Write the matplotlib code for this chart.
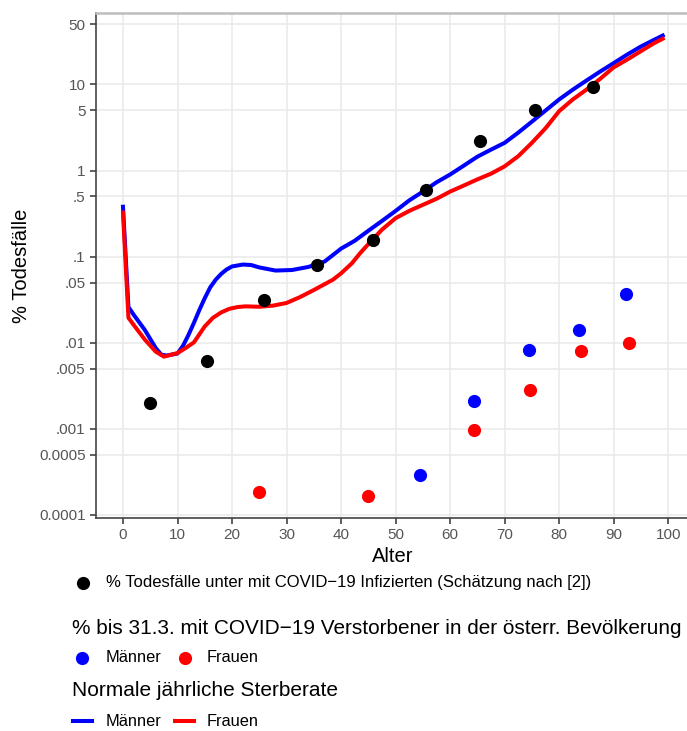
import numpy as np
import matplotlib
matplotlib.use('Agg')
import matplotlib.pyplot as plt
from matplotlib.lines import Line2D

matplotlib.rcParams['font.family'] = ['Liberation Sans', 'DejaVu Sans']

##########################################
## Data
##########################################

# % deaths among COVID-19 infected (estimate)
infected_age  = [5, 15.5, 25.9, 35.6, 45.8, 55.5, 65.4, 75.5, 86.3]
infected_rate = [0.002, 0.0061, 0.031, 0.079, 0.155, 0.60, 2.2, 5.1, 9.3]

# % of Austrian population dead with COVID-19 until 31.3.
men_covid_age    = [54.5, 64.3, 74.5, 83.7, 92.3]
men_covid_rate   = [0.00029, 0.00213, 0.0082, 0.0141, 0.0368]
women_covid_age  = [24.9, 44.9, 64.3, 74.7, 84.0, 92.9]
women_covid_rate = [0.000184, 0.000166, 0.00097, 0.00284, 0.0081, 0.0099]

# normal yearly death rate
men_age  = [0, 1, 2, 4, 6, 7, 8, 10, 11, 12, 13, 14, 15, 16, 17, 18, 19, 20, 22,
            23.5, 25, 28, 31, 34, 37, 40, 42.5, 45, 47.5, 50, 52.5, 55, 57.5, 60,
            62.5, 65, 67.5, 70, 72.5, 75, 77.5, 80, 82.5, 85, 87.5, 90, 92.5, 95,
            97.5, 99]
men_rate = [0.38, 0.026, 0.021, 0.0141, 0.0087, 0.0073, 0.0071, 0.0075, 0.0092,
            0.0123, 0.017, 0.024, 0.033, 0.044, 0.054, 0.063, 0.071, 0.077, 0.081,
            0.080, 0.075, 0.069, 0.070, 0.076, 0.088, 0.124, 0.153, 0.20, 0.26,
            0.34, 0.45, 0.57, 0.73, 0.90, 1.14, 1.45, 1.75, 2.1, 2.76, 3.7, 4.98,
            6.7, 8.7, 11.1, 14.1, 17.7, 22.3, 27.6, 33.2, 37]
women_age  = [0, 1, 2, 4, 6, 7.5, 10, 11.5, 13, 14, 15, 16.5, 18, 19.5, 21, 22.5,
              25, 27.5, 30, 32.5, 35, 38.5, 40, 42, 43.5, 45, 47.5, 50, 52.5, 55,
              57.5, 60, 62.5, 65, 67.5, 70, 72.5, 75, 77.5, 80, 82.5, 85, 87.5,
              90, 92.5, 95, 97.5, 99]
women_rate = [0.325, 0.0195, 0.016, 0.0109, 0.0079, 0.0069, 0.0076, 0.0087, 0.0101,
              0.0125, 0.0155, 0.0195, 0.0225, 0.0248, 0.026, 0.0265, 0.0262, 0.027,
              0.029, 0.034, 0.041, 0.054, 0.064, 0.084, 0.11, 0.14, 0.206, 0.28,
              0.34, 0.40, 0.47, 0.57, 0.67, 0.79, 0.92, 1.12, 1.47, 2.1, 3.1, 4.9,
              6.7, 8.7, 11.6, 15.8, 19.5, 24.4, 30.4, 34]

y_ticks  = [0.0001, 0.0005, 0.001, 0.005, 0.01, 0.05, 0.1, 0.5, 1, 5, 10, 50]
y_labels = ['0.0001', '0.0005', '.001', '.005', '.01', '.05', '.1', '.5', '1', '5', '10', '50']
x_ticks  = list(range(0, 101, 10))

##########################################
## Plot
##########################################
W, H = 687, 731
fig = plt.figure(figsize=(W/100, H/100), dpi=100)
fig.patch.set_facecolor('white')

def fx(px): return px / W
def fy(py): return 1 - py / H

ax_left, ax_right, ax_top, ax_bottom = 96, 690, 13, 518
ax = fig.add_axes([fx(ax_left), fy(ax_bottom), fx(ax_right - ax_left), (ax_bottom - ax_top) / H])

blue = '#0000FF'
red = '#FF0000'
lw = 2.9

ax.plot(men_age, men_rate, color=blue, lw=lw, zorder=3, solid_joinstyle='round')
ax.plot(women_age, women_rate, color=red, lw=lw, zorder=3, solid_joinstyle='round')
ax.scatter(infected_age, infected_rate, s=90, color='black', zorder=4, linewidths=0)
ax.scatter(men_covid_age, men_covid_rate, s=90, color=blue, zorder=4, linewidths=0)
ax.scatter(women_covid_age, women_covid_rate, s=90, color=red, zorder=4, linewidths=0)

ax.set_yscale('log')
ax.set_xlim(-4.95, 104.0)
ax.set_ylim(10**-4.035, 10**1.83)
ax.set_yticks(y_ticks)
ax.set_yticklabels(y_labels)
ax.set_xticks(x_ticks)
ax.minorticks_off()
ax.tick_params(axis='both', colors='#333333', labelcolor='#555555', labelsize=11,
               length=4, width=1.1)
ax.grid(True, color='#EBEBEB', lw=1.2)
ax.set_axisbelow(True)

for s in ['left', 'bottom']:
    ax.spines[s].set_color('#444444')
    ax.spines[s].set_linewidth(1.2)
ax.spines['top'].set_color('#BDBDBD')
ax.spines['top'].set_linewidth(1.8)
ax.spines['right'].set_visible(False)

ax.set_xlabel('Alter', fontsize=14.5, labelpad=3)
ax.set_ylabel('% Todesfälle', fontsize=14.5, labelpad=6)

##########################################
## Legend below the plot
##########################################
def dot(px, py, c):
    fig.add_artist(Line2D([fx(px)], [fy(py)], marker='o', markersize=9.5, color=c,
                          markeredgewidth=0, transform=fig.transFigure))

def key_line(px0, px1, py, c):
    fig.add_artist(Line2D([fx(px0), fx(px1)], [fy(py), fy(py)], color=c, lw=2.9,
                          transform=fig.transFigure))

dot(83, 583, 'black')
fig.text(fx(106), fy(583), '% Todesfälle unter mit COVID\u221219 Infizierten (Schätzung nach [2])',
         fontsize=12, va='center', ha='left')

fig.text(fx(72), fy(628), '% bis 31.3. mit COVID\u221219 Verstorbener in der österr. Bevölkerung',
         fontsize=14.95, va='center', ha='left')
dot(82, 658, blue)
fig.text(fx(106), fy(658), 'Männer', fontsize=11.8, va='center', ha='left')
dot(185, 658, red)
fig.text(fx(207), fy(658), 'Frauen', fontsize=11.8, va='center', ha='left')

fig.text(fx(72), fy(690), 'Normale jährliche Sterberate', fontsize=15, va='center', ha='left')
key_line(73, 92, 721, blue)
fig.text(fx(106), fy(721), 'Männer', fontsize=11.8, va='center', ha='left')
key_line(175, 194, 721, red)
fig.text(fx(207), fy(721), 'Frauen', fontsize=11.8, va='center', ha='left')

plt.savefig('out.png', dpi=100)
